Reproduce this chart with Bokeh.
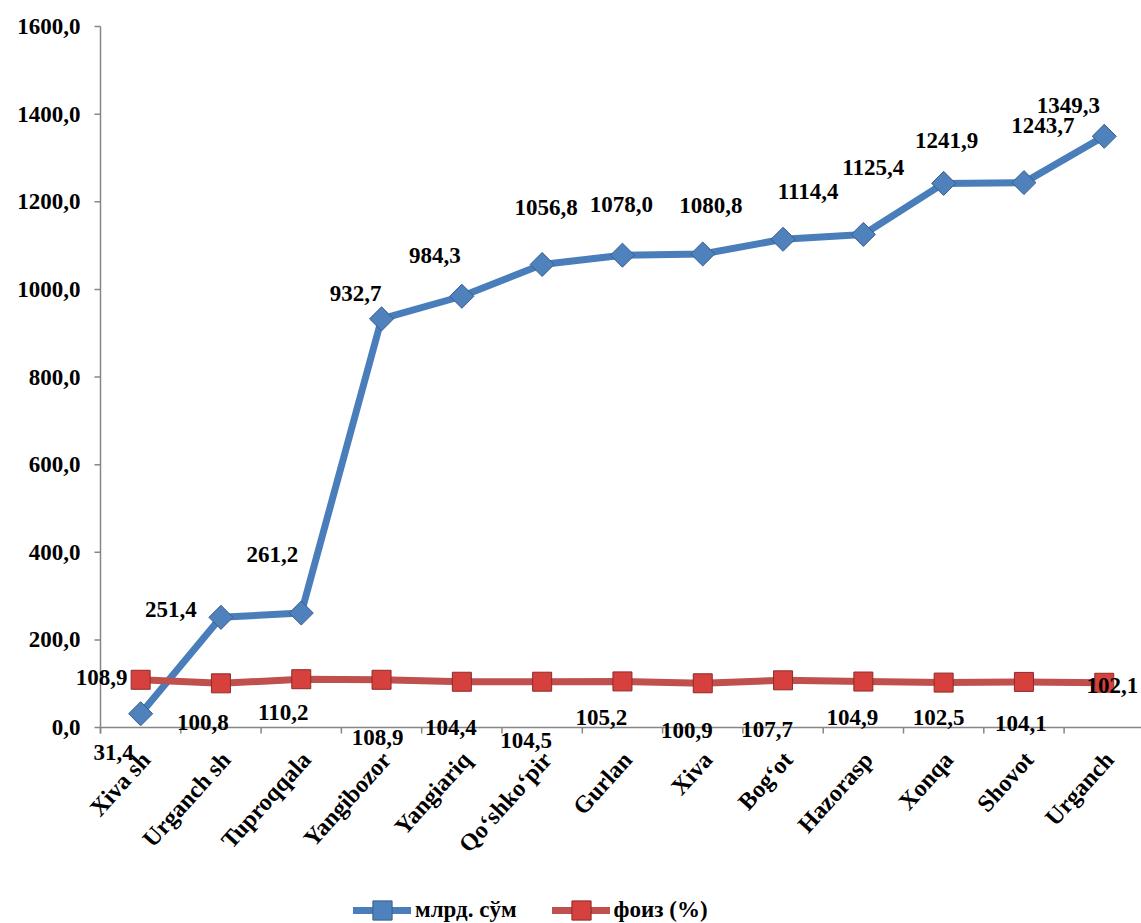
import math
from bokeh.plotting import figure
from bokeh.models import (ColumnDataSource, Range1d, LabelSet, Legend, LegendItem)
from bokeh.embed import file_html
from bokeh.resources import INLINE

# ---- data ----
districts = ["Xiva sh", "Urganch sh", "Tuproqqala", "Yangibozor", "Yangiariq",
             "Qo‘shko‘pir", "Gurlan", "Xiva", "Bog‘ot", "Hazorasp", "Xonqa",
             "Shovot", "Urganch"]
mlrd_sum = [31.4, 251.4, 261.2, 932.7, 984.3, 1056.8, 1078.0, 1080.8, 1114.4,
            1125.4, 1241.9, 1243.7, 1349.3]
foiz = [108.9, 100.8, 110.2, 108.9, 104.4, 104.5, 105.2, 100.9, 107.7, 104.9,
        102.5, 104.1, 102.1]
y_ticks = [0, 200, 400, 600, 800, 1000, 1200, 1400, 1600]
y_tick_labels = ["0,0", "200,0", "400,0", "600,0", "800,0", "1000,0",
                 "1200,0", "1400,0", "1600,0"]
series_names = ["млрд. сўм", "фоиз (%)"]

# ---- label placement (pixels, screen-down positive) ----
blue_dx = [-27, -50, -29, -26, -27, 4, -1, 8, 25, 10, 3, 19, -36]
blue_dy = [39, -8, -59, -25, -41, -57, -51, -48, -48, -67, -43, -57, -31]
red_dx = [-39, -18, -18, -4, -11, -16, -21, -16, -16, -11, -5, -3, 8]
red_dy = [-2, 39, 33, 58, 46, 59, 36, 47, 49, 36, 35, 42, 3]

FONT = "Liberation Serif"
FS = "23px"
CAT_FS = "24px"
CAT_ANGLE = math.radians(48)
AXIS_GREY = "#868686"
BLUE_LINE = "#4A7EBB"
RED_LINE = "#C0504D"

W, H = 1141, 923
AXIS_X_PX, ZERO_Y_PX, TOP_Y_PX = 100, 727, 26      # plot-area geometry in pixels
PX_X = 80.3                                       # pixels per category
PX_Y = (ZERO_Y_PX - TOP_Y_PX) / y_ticks[-1]       # pixels per value unit
TICK_X = 6 / PX_X
TICK_Y = 6 / PX_Y
CAT_LABEL_DX, CAT_LABEL_DY = 5, 28                # anchor of rotated category labels


def fmt(v):
    return f"{v:.1f}".replace(".", ",")


n = len(districts)
xs = [i + 0.5 for i in range(n)]

src = ColumnDataSource(dict(
    x=xs, m=mlrd_sum, f=foiz, name=districts,
    lx=[x + CAT_LABEL_DX / PX_X for x in xs], ly=[-CAT_LABEL_DY / PX_Y] * n,
    mt=[fmt(v) for v in mlrd_sum], ft=[fmt(v) for v in foiz],
    bdx=blue_dx, bdy=[-d for d in blue_dy],
    rdx=red_dx, rdy=[-d for d in red_dy],
))
ysrc = ColumnDataSource(dict(y=y_ticks, lab=y_tick_labels, x0=[0] * len(y_ticks),
                             x1=[-TICK_X] * len(y_ticks)))

p = figure(width=W, height=H, output_backend="svg", toolbar_location=None,
           x_range=Range1d(-AXIS_X_PX / PX_X, (W - AXIS_X_PX) / PX_X),
           y_range=Range1d(-(H - ZERO_Y_PX) / PX_Y, y_ticks[-1] + TOP_Y_PX / PX_Y),
           min_border_left=0, min_border_right=0, min_border_top=0,
           min_border_bottom=0)
p.outline_line_color = None
p.xgrid.grid_line_color = None
p.ygrid.grid_line_color = None
p.background_fill_color = "white"
p.border_fill_color = "white"
p.xaxis.visible = False
p.yaxis.visible = False

# value axis: line, ticks, labels
p.segment(x0=[0], y0=[-TICK_Y], x1=[0], y1=[y_ticks[-1]],
          line_color=AXIS_GREY, line_width=1.5)
p.segment(x0="x0", y0="y", x1="x1", y1="y", source=ysrc,
          line_color=AXIS_GREY, line_width=1.5)
p.add_layout(LabelSet(x="x0", y="y", text="lab", source=ysrc, x_offset=-20,
                      text_align="right", text_baseline="middle", text_font=FONT,
                      text_font_style="bold", text_font_size=FS,
                      text_color="black"))

# category axis line at 0 and boundary ticks
p.segment(x0=[0], y0=[0], x1=[(W - AXIS_X_PX) / PX_X], y1=[0],
          line_color=AXIS_GREY, line_width=1.5)
bounds = list(range(n + 1))
p.segment(x0=bounds, y0=[0] * len(bounds), x1=bounds,
          y1=[-TICK_Y] * len(bounds), line_color=AXIS_GREY, line_width=1.5)

# category labels (rotated, anchored at their right end)
p.add_layout(LabelSet(x="lx", y="ly", text="name", source=src, angle=CAT_ANGLE,
                      text_align="right", text_baseline="middle", text_font=FONT,
                      text_font_style="bold", text_font_size=CAT_FS,
                      text_color="black"))

# series
bl = p.line("x", "m", source=src, line_width=7, line_color=BLUE_LINE,
            line_join="round", line_cap="round")
bm = p.scatter("x", "m", source=src, marker="square", angle=math.pi / 4, size=17,
               fill_color="#4F81BD", line_color="#385D8A", line_width=1)
rl = p.line("x", "f", source=src, line_width=7, line_color=RED_LINE,
            line_join="round", line_cap="round")
rm = p.scatter("x", "f", source=src, marker="square", size=19,
               fill_color="#D6403D", line_color="#8E2B29", line_width=1)

# data labels
for col, ycol, dx, dy in (("mt", "m", "bdx", "bdy"), ("ft", "f", "rdx", "rdy")):
    p.add_layout(LabelSet(x="x", y=ycol, text=col, source=src,
                          x_offset=dx, y_offset=dy, text_align="center",
                          text_baseline="middle", text_font=FONT,
                          text_font_style="bold", text_font_size=FS,
                          text_color="black"))

legend = Legend(items=[LegendItem(label=series_names[0], renderers=[bl, bm]),
                       LegendItem(label=series_names[1], renderers=[rl, rm])],
                orientation="horizontal", location=(353, -11),
                glyph_width=58, glyph_height=48, label_standoff=4, spacing=35,
                padding=0, margin=0, border_line_color=None,
                background_fill_alpha=0, label_text_font=FONT,
                label_text_font_style="bold", label_text_font_size=FS,
                label_text_color="black")
p.add_layout(legend)

open("out.html", "w").write(file_html(p, INLINE))
